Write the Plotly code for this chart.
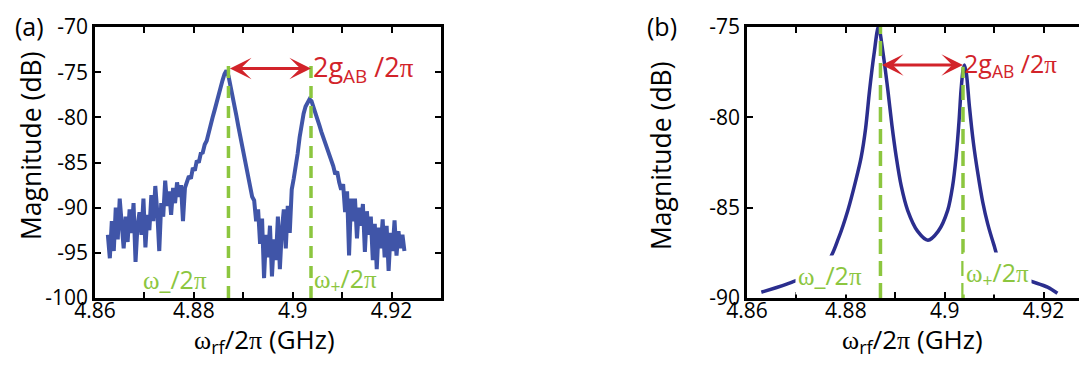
import numpy as np
import plotly.graph_objects as go

# ---------------- data ----------------
# (a) measured transmission, evenly spaced sweep
freq_meas = np.linspace(4.8626, 4.9226, 151)
mag_meas = [
    -93.0, -95.6, -91.5, -94.8, -90.0, -93.5, -89.0, -92.5, -94.5, -91.0,
    -93.8, -90.2, -92.8, -89.5, -96.0, -92.0, -90.5, -93.0, -89.0, -94.4,
    -90.8, -92.5, -88.6, -91.5, -87.6, -90.5, -94.8, -89.5, -91.0, -87.0,
    -89.8, -88.2, -90.8, -87.8, -89.5, -87.2, -88.8, -87.5, -91.5, -87.8,
    -87.0, -86.5, -86.8, -85.6, -85.9, -84.8, -85.0, -84.0, -83.9, -83.0,
    -82.6, -81.6, -81.0, -80.0, -79.2, -78.3, -77.4, -76.6, -75.9, -75.2,
    -74.8, -75.4, -76.4, -77.5, -78.6, -79.8, -81.0, -82.2, -83.4, -84.6,
    -85.8, -87.0, -87.8, -88.8, -89.2, -91.5, -90.2, -94.0, -91.2, -97.8,
    -93.0, -95.5, -92.0, -97.6, -93.5, -95.8, -91.0, -96.8, -92.5, -90.2,
    -94.5, -89.8, -92.8, -88.0, -86.8, -85.6, -84.0, -82.2, -80.8, -79.6,
    -78.8, -78.3, -78.0, -78.2, -78.8, -79.4, -80.0, -80.9, -81.6, -82.2,
    -83.0, -83.6, -84.2, -84.9, -85.4, -86.3, -86.0, -87.2, -88.0, -87.4,
    -90.5, -88.2, -95.3, -89.0, -91.5, -89.0, -93.4, -90.0, -92.0, -89.6,
    -94.9, -90.4, -93.0, -91.0, -95.8, -91.8, -96.8, -92.2, -94.5, -91.3,
    -95.5, -92.0, -97.0, -92.8, -94.8, -91.4, -95.3, -92.6, -94.5, -93.0,
    -94.8,
]

# (b) model curve
freq_model = [
    4.8629, 4.8660, 4.8690, 4.8730, 4.8767, 4.8785, 4.8804, 4.8820, 4.8831,
    4.8840, 4.8848, 4.8857, 4.8866, 4.8875, 4.8885, 4.8893, 4.8902, 4.8912,
    4.8925, 4.8945, 4.8966, 4.8987, 4.9006, 4.9016, 4.9023, 4.9029, 4.9033,
    4.9037, 4.9040, 4.9044, 4.9050, 4.9058, 4.9067, 4.9077, 4.9087, 4.9100,
    4.9110, 4.9150, 4.9208, 4.9228,
]
mag_model = [
    -89.68, -89.42, -89.13, -88.70, -87.83, -86.70, -85.15, -83.50, -82.20,
    -80.60, -78.50, -76.50, -74.96, -76.40, -78.50, -80.40, -82.20, -83.80,
    -85.15, -86.30, -86.80, -86.30, -85.15, -83.80, -82.20, -80.20, -78.50,
    -77.40, -77.10, -77.60, -79.40, -81.40, -83.10, -84.70, -85.90, -87.10,
    -87.90, -88.80, -89.40, -89.74,
]

omega_minus = 4.887
omega_plus = 4.9037
arrow_level_a = -74.6
arrow_level_b = -77.1
dash_bottom_a = -100
dash_top_a = [-74.0, -74.0]
dash_bottom_b = -90
dash_top_b = [-75.0, -77.2]

x_tickvals = [4.86, 4.87, 4.88, 4.89, 4.90, 4.91, 4.92, 4.93]
x_ticktext = ["4.86", "", "4.88", "", "4.9", "", "4.92", ""]
ya_tickvals = [-100, -95, -90, -85, -80, -75, -70]
ya_ticktext = ["-100", "-95", "-90", "-85", "-80", "-75", "-70"]
yb_tickvals = [-90, -85, -80, -75]
yb_ticktext = ["-90", "-85", "-80", "-75"]

# ---------------- styles ----------------
BLUE_A = "#4055A8"
BLUE_B = "#2B2E8E"
GREEN = "#8CC63F"
RED = "#D2232A"
FONT = "Open Sans"

W, H = 1087, 365


def serif(s):
    return f"<span style=\"font-family:'Liberation Serif',serif\">{s}</span>"


PI = serif("π")
OM = serif("ω")

fig = go.Figure()

# panel (a)
fig.add_trace(go.Scatter(x=freq_meas, y=mag_meas, mode="lines",
                         line=dict(color=BLUE_A, width=4),
                         xaxis="x", yaxis="y", showlegend=False))
for xv, yt in zip([omega_minus, omega_plus], dash_top_a):
    fig.add_trace(go.Scatter(x=[xv, xv], y=[dash_bottom_a, yt], mode="lines",
                             line=dict(color=GREEN, width=3.5, dash="12px,8px"),
                             xaxis="x", yaxis="y", showlegend=False))

# panel (b)
fig.add_trace(go.Scatter(x=freq_model, y=mag_model, mode="lines",
                         line=dict(color=BLUE_B, width=3.5, shape="spline", smoothing=0.8),
                         xaxis="x2", yaxis="y2", showlegend=False))
for xv, yt in zip([omega_minus, omega_plus], dash_top_b):
    fig.add_trace(go.Scatter(x=[xv, xv], y=[dash_bottom_b, yt], mode="lines",
                             line=dict(color=GREEN, width=3.5, dash="15px,7px"),
                             xaxis="x2", yaxis="y2", showlegend=False))

ax_common = dict(showline=True, linecolor="black", linewidth=2.5, mirror="ticks",
                 ticks="inside", ticklen=6, tickwidth=2, tickcolor="black",
                 showgrid=False, zeroline=False, automargin=False,
                 tickfont=dict(size=21, family=FONT, color="black"))

ydom = [(H - 290) / H, (H - 19) / H]

fig.update_layout(
    width=W, height=H,
    margin=dict(l=0, r=0, t=0, b=0),
    paper_bgcolor="white", plot_bgcolor="white",
    font=dict(family=FONT, color="black"),
    xaxis=dict(domain=[87 / W, 433 / W], range=[4.86, 4.93], anchor="y",
               tickvals=x_tickvals, ticktext=x_ticktext, ticklabelstandoff=-8, **ax_common),
    yaxis=dict(domain=ydom, range=[-100, -70], anchor="x",
               tickvals=ya_tickvals, ticktext=ya_ticktext, **ax_common),
    xaxis2=dict(domain=[739 / W, 1085 / W], range=[4.86, 4.93], anchor="y2",
                tickvals=x_tickvals, ticktext=x_ticktext, ticklabelstandoff=-8, **ax_common),
    yaxis2=dict(domain=ydom, range=[-90, -75], anchor="x2",
                tickvals=yb_tickvals, ticktext=yb_ticktext, **ax_common),
)

ann = []
# arrows
for xr, yr, lvl in [("x", "y", arrow_level_a), ("x2", "y2", arrow_level_b)]:
    ann.append(dict(xref=xr, yref=yr, axref=xr, ayref=yr,
                    x=omega_plus, y=lvl, ax=omega_minus, ay=lvl,
                    text="", showarrow=True, arrowhead=3, startarrowhead=3,
                    arrowside="end+start", arrowsize=1.2, startarrowsize=1.2,
                    arrowwidth=3, arrowcolor=RED, standoff=0, startstandoff=0))

gtext = f"2g<sub>AB</sub> /2{PI}"
ann.append(dict(xref="x", yref="y", x=4.9037, y=arrow_level_a, xanchor="left", yanchor="middle",
                text=gtext, showarrow=False, font=dict(size=27, color=RED, family=FONT)))
ann.append(dict(xref="x2", yref="y2", x=4.9035, y=arrow_level_b, xanchor="left", yanchor="middle",
                text=gtext, showarrow=False, font=dict(size=25, color=RED, family=FONT)))

# omega labels
ann.append(dict(xref="x", yref="y", x=4.8830, y=-97.9, xanchor="right", yanchor="middle",
                text=f"{OM}_/2{PI}", showarrow=False, font=dict(size=25, color=GREEN, family=FONT)))
ann.append(dict(xref="x", yref="y", x=4.9040, y=-97.9, xanchor="left", yanchor="middle",
                text=f"{OM}<sub>+</sub>/2{PI}", showarrow=False, font=dict(size=25, color=GREEN, family=FONT)))
ann.append(dict(xref="x2", yref="y2", x=4.8838, y=-89.85, xanchor="right", yanchor="bottom",
                text=f"{OM}_/2{PI}", showarrow=False, bgcolor="white", borderpad=2,
                font=dict(size=25, color=GREEN, family=FONT)))
ann.append(dict(xref="x2", yref="y2", x=4.9036, y=-89.85, xanchor="left", yanchor="bottom",
                text=f"{OM}<sub>+</sub>/2{PI}", showarrow=False, bgcolor="white", borderpad=2,
                font=dict(size=25, color=GREEN, family=FONT)))

# axis titles and panel labels
ytitle = "Magnitude (dB)"
xtitle = f"{OM}<sub>rf</sub>/2{PI} (GHz)"
for xp, yp in [(23, 138), (653, 148)]:
    ann.append(dict(xref="paper", yref="paper", x=xp / W, y=1 - yp / H, text=ytitle,
                    textangle=-90, showarrow=False, xanchor="center", yanchor="middle",
                    font=dict(size=26.5, family=FONT, color="black")))
for xp, yp in [(256, 332), (904, 332)]:
    ann.append(dict(xref="paper", yref="paper", x=xp / W, y=1 - yp / H, text=xtitle,
                    showarrow=False, xanchor="center", yanchor="middle",
                    font=dict(size=26, family=FONT, color="black")))
for txt, xp in [("(a)", 21), ("(b)", 654)]:
    ann.append(dict(xref="paper", yref="paper", x=xp / W, y=1.0, text=txt,
                    showarrow=False, xanchor="center", yanchor="top", borderpad=0,
                    font=dict(size=25, family=FONT, color="black")))

fig.update_layout(annotations=ann)
fig.write_html("out.html")
